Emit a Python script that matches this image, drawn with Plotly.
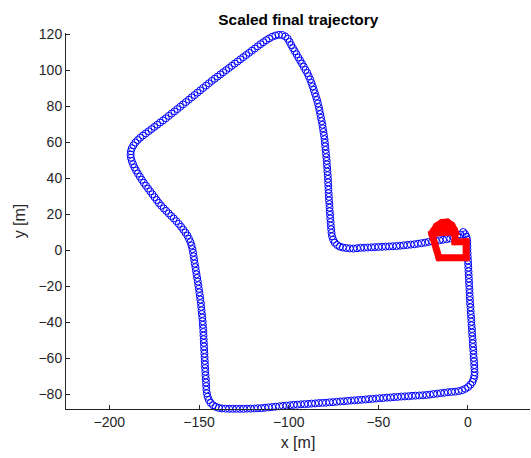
import plotly.graph_objects as go

# ---- Blue trajectory (metres), by stretch of the loop ----
right_x = [-2.6, -1.6, -0.9, -0.5, -0.4, -0.3, -0.3, -0.2, -0.1, 0.0, 0.1, 0.2, 0.3, 0.4, 0.5, 0.6, 0.7,
           0.8, 0.9, 1.0, 1.1, 1.2, 1.4, 1.5, 1.6, 1.8, 1.9, 2.0, 2.2, 2.3, 2.4, 2.6, 2.7, 2.8, 3.0, 3.1,
           3.2, 3.4, 3.5, 3.6, 3.7, 3.6, 3.2, 2.5, 1.4, 0.1, -1.5, -3.3, -5.2, -7.2]
right_y = [10.2, 9.0, 7.6, 6.0, 4.2, 2.3, 0.4, -1.6, -3.6, -5.6, -7.6, -9.6, -11.6, -13.6, -15.6, -17.6,
           -19.6, -21.6, -23.6, -25.6, -27.6, -29.6, -31.6, -33.6, -35.6, -37.6, -39.6, -41.6, -43.6,
           -45.6, -47.6, -49.6, -51.6, -53.6, -55.6, -57.6, -59.6, -61.6, -63.6, -65.6, -67.6, -69.5,
           -71.3, -73.0, -74.5, -75.8, -76.8, -77.6, -78.1, -78.4]

bottom_x = [-9.2, -11.2, -13.2, -15.2, -17.2, -19.2, -21.2, -23.2, -25.2, -27.2, -29.2, -31.2, -33.2,
            -35.2, -37.2, -39.2, -41.2, -43.2, -45.2, -47.2, -49.2, -51.2, -53.2, -55.2, -57.2, -59.2,
            -61.2, -63.2, -65.2, -67.2, -69.2, -71.2, -73.2, -75.2, -77.2, -79.2, -81.2, -83.2, -85.2,
            -87.2, -89.2, -91.2, -93.2, -95.2, -97.2, -99.2, -101.2, -103.2, -105.2, -107.2, -109.2,
            -111.2, -113.2, -115.2, -117.2, -119.2, -121.2, -123.2, -125.2, -127.2, -129.2, -131.2,
            -133.2, -135.2, -137.2]
bottom_y = [-78.5, -78.7, -79.0, -79.2, -79.5, -79.7, -80.0, -80.2, -80.4, -80.5, -80.6, -80.7, -80.9,
            -81.0, -81.1, -81.3, -81.4, -81.6, -81.7, -81.9, -82.0, -82.2, -82.4, -82.5, -82.7, -82.9,
            -83.0, -83.2, -83.3, -83.5, -83.7, -83.8, -84.0, -84.2, -84.3, -84.5, -84.6, -84.7, -84.9,
            -85.0, -85.2, -85.3, -85.4, -85.6, -85.7, -85.9, -86.1, -86.3, -86.5, -86.7, -86.9, -87.1,
            -87.3, -87.5, -87.6, -87.7, -87.8, -87.8, -87.9, -87.9, -87.9, -87.9, -87.9, -87.8, -87.7]

left_x = [-139.0, -140.7, -142.2, -143.5, -144.5, -145.2, -145.6, -145.9, -146.0, -146.1, -146.2, -146.4,
          -146.5, -146.6, -146.7, -146.8, -146.9, -147.0, -147.1, -147.2, -147.3, -147.4, -147.5, -147.6,
          -147.7, -147.9, -148.0, -148.2, -148.4, -148.6, -148.8, -149.0, -149.3, -149.5, -149.8, -150.1,
          -150.4, -150.7, -151.0, -151.4, -151.7, -152.0, -152.4, -152.7, -153.0, -153.3, -153.7, -154.2,
          -154.8, -155.6, -156.5, -157.6]
left_y = [-87.4, -86.8, -85.9, -84.6, -83.0, -81.2, -79.3, -77.3, -75.3, -73.3, -71.3, -69.3, -67.3,
          -65.3, -63.3, -61.3, -59.3, -57.3, -55.3, -53.3, -51.3, -49.3, -47.3, -45.3, -43.3, -41.3,
          -39.3, -37.3, -35.3, -33.3, -31.3, -29.3, -27.3, -25.3, -23.3, -21.3, -19.3, -17.3, -15.3,
          -13.3, -11.3, -9.3, -7.3, -5.3, -3.3, -1.3, 0.7, 2.7, 4.6, 6.4, 8.2, 9.9]

lowdiag_x = [-158.8, -160.0, -161.3, -162.7, -164.1, -165.5, -166.9, -168.3, -169.7, -171.1, -172.4,
             -173.6, -174.8, -176.0, -177.2, -178.4, -179.6, -180.8, -181.9, -183.0, -184.1, -185.1,
             -186.0, -186.8, -187.5, -188.0, -188.2, -188.0, -187.5, -186.6, -185.5, -184.2, -182.8, -181.3]
lowdiag_y = [11.5, 13.1, 14.7, 16.2, 17.7, 19.1, 20.5, 21.9, 23.3, 24.8, 26.3, 27.9, 29.5, 31.1, 32.7,
             34.3, 35.9, 37.5, 39.2, 40.9, 42.6, 44.3, 46.0, 47.8, 49.6, 51.4, 53.2, 55.0, 56.7, 58.3,
             59.8, 61.2, 62.5, 63.7]

updiag_x = [-179.7, -178.1, -176.5, -174.9, -173.3, -171.7, -170.1, -168.5, -166.9, -165.3, -163.7,
            -162.1, -160.5, -158.9, -157.3, -155.7, -154.1, -152.5, -150.9, -149.3, -147.7, -146.1,
            -144.5, -142.9, -141.3, -139.7, -138.1, -136.5, -134.9, -133.3, -131.7, -130.1, -128.5,
            -126.9, -125.3, -123.7, -122.1, -120.5, -118.9, -117.3, -115.7, -114.1, -112.5, -110.9,
            -109.2, -107.4, -105.5, -103.6, -101.9, -100.5]
updiag_y = [64.9, 66.1, 67.3, 68.5, 69.7, 70.9, 72.1, 73.3, 74.6, 75.9, 77.1, 78.4, 79.7, 81.0, 82.3,
            83.6, 84.9, 86.2, 87.5, 88.8, 90.1, 91.4, 92.7, 94.0, 95.2, 96.4, 97.6, 98.8, 100.0, 101.2,
            102.4, 103.6, 104.8, 106.0, 107.2, 108.4, 109.6, 110.8, 112.0, 113.2, 114.4, 115.5, 116.6,
            117.6, 118.5, 119.2, 119.6, 119.5, 118.7, 117.4]

inner_x = [-99.5, -98.6, -97.6, -96.6, -95.6, -94.6, -93.6, -92.6, -91.6, -90.6, -89.6, -88.8, -88.0,
           -87.3, -86.6, -86.0, -85.4, -84.8, -84.2, -83.7, -83.2, -82.8, -82.4, -82.0, -81.6, -81.2,
           -80.9, -80.6, -80.3, -80.0, -79.8, -79.6, -79.4, -79.2, -79.0, -78.8, -78.7, -78.5, -78.4,
           -78.2, -78.1, -78.0, -77.9, -77.8, -77.7, -77.6, -77.5, -77.3, -77.2, -77.1, -76.9, -76.8,
           -76.6, -76.5, -76.3, -76.1, -75.8, -75.2, -74.3, -73.0, -71.5, -69.8, -67.9, -65.9, -63.9]
inner_y = [115.7, 113.9, 112.2, 110.5, 108.8, 107.0, 105.3, 103.6, 101.9, 100.1, 98.4, 96.6, 94.8, 92.9,
           91.0, 89.1, 87.2, 85.3, 83.4, 81.5, 79.5, 77.6, 75.6, 73.6, 71.7, 69.7, 67.7, 65.7, 63.7,
           61.7, 59.7, 57.7, 55.7, 53.7, 51.7, 49.7, 47.7, 45.7, 43.7, 41.7, 39.7, 37.7, 35.7, 33.7,
           31.7, 29.7, 27.7, 25.7, 23.7, 21.7, 19.7, 17.7, 15.7, 13.7, 11.7, 9.7, 7.8, 5.9, 4.3, 3.0,
           2.1, 1.6, 1.3, 1.1, 1.0]

mid_x = [-61.9, -59.9, -57.9, -55.9, -53.9, -51.9, -49.9, -47.9, -45.9, -43.9, -41.9, -39.9, -37.9,
         -35.9, -33.9, -31.9, -29.9, -27.9, -25.9, -23.9, -21.9, -19.9, -17.9, -15.9, -13.9, -11.9,
         -9.9, -7.9, -6.0, -4.2]
mid_y = [1.2, 1.4, 1.5, 1.6, 1.7, 1.8, 1.9, 2.0, 2.1, 2.2, 2.3, 2.4, 2.6, 2.8, 3.0, 3.2, 3.4, 3.7, 4.0,
         4.3, 4.7, 5.0, 5.3, 5.6, 5.9, 6.2, 6.6, 7.1, 7.8, 8.8]

# ---- Red closed shape near the origin (metres) ----
red_loop_x = [-7.3, -7.3, -1.0, -1.0, -16.2, -20.1, -14.0, -7.3]
red_loop_y = [10.4, 4.8, 4.8, -4.1, -4.1, 9.0, 10.1, 10.4]
red_blob_x = [-19.5, -17.5, -14.5, -11.5, -9.0, -7.5, -7.3, -14.0, -19.5]
red_blob_y = [10.5, 13.5, 15.5, 15.7, 14.0, 11.5, 10.4, 10.1, 10.5]

x_ticks = [-200, -150, -100, -50, 0]
y_ticks = [-80, -60, -40, -20, 0, 20, 40, 60, 80, 100, 120]

segments = [(right_x, right_y), (bottom_x, bottom_y), (left_x, left_y), (lowdiag_x, lowdiag_y),
            (updiag_x, updiag_y), (inner_x, inner_y), (mid_x, mid_y)]
traj_x, traj_y = [], []
for sx, sy in segments:
    assert len(sx) == len(sy), (len(sx), len(sy))
    traj_x += sx
    traj_y += sy

BLUE = "#0000ff"
RED = "#ff0000"

fig = go.Figure()
fig.add_trace(go.Scatter(
    x=traj_x, y=traj_y, mode="markers", cliponaxis=False,
    marker=dict(symbol="circle-open", size=7, color=BLUE, line=dict(width=1, color=BLUE)),
    showlegend=False,
))
fig.add_trace(go.Scatter(
    x=red_blob_x, y=red_blob_y, mode="lines+markers", fill="toself", fillcolor=RED, cliponaxis=False,
    line=dict(color=RED, width=7), marker=dict(symbol="circle", size=7, color=RED),
    showlegend=False,
))
fig.add_trace(go.Scatter(
    x=red_loop_x, y=red_loop_y, mode="lines+markers", cliponaxis=False,
    line=dict(color=RED, width=7), marker=dict(symbol="circle", size=7, color=RED),
    showlegend=False,
))

axis_col = "#262626"
fig.update_layout(
    width=531, height=458,
    margin=dict(l=66, r=1, t=33, b=49),
    paper_bgcolor="white", plot_bgcolor="white",
    font=dict(family="Liberation Sans, Arial, sans-serif", size=14, color=axis_col),
    title=dict(text="<b>Scaled final trajectory</b>", x=0.5618, xanchor="center", y=0.958, yanchor="middle",
               font=dict(size=15.4, color="#000000")),
    xaxis=dict(
        range=[-224.2, 34.6], tickvals=x_ticks, ticks="inside", ticklen=4, tickcolor=axis_col,
        showline=True, linecolor=axis_col, linewidth=1, showgrid=False, zeroline=False,
        title=dict(text="x [m]", font=dict(size=16), standoff=8), automargin=False,
    ),
    yaxis=dict(
        range=[-88.0, 120.6], tickvals=y_ticks, ticks="inside", ticklen=4, tickcolor=axis_col,
        showline=True, linecolor=axis_col, linewidth=1, showgrid=False, zeroline=False,
        title=dict(text="y [m]", font=dict(size=16), standoff=8), automargin=False,
    ),
)

fig.write_html("out.html")
